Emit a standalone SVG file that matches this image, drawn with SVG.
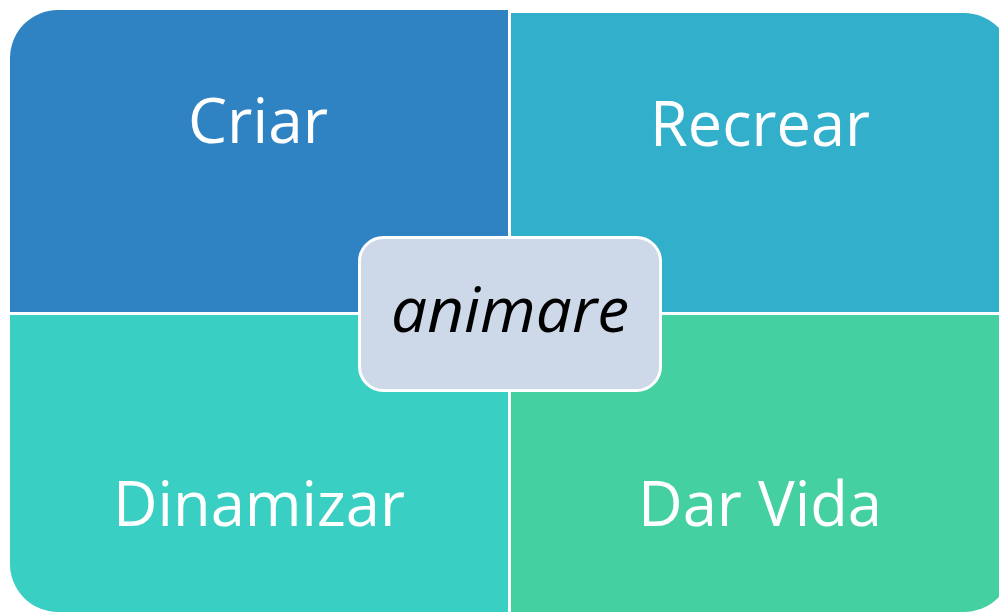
<svg xmlns="http://www.w3.org/2000/svg" width="999" height="614" viewBox="0 0 999 614">
<style>
.lbl{font-family:"Open Sans","Noto Sans","DejaVu Sans",sans-serif;font-size:63px;fill:#FFFFFF;text-anchor:middle}
.ctr{font-family:"Open Sans","Noto Sans","DejaVu Sans",sans-serif;font-size:63px;font-style:italic;fill:#000000;text-anchor:middle}
</style>
<rect width="999" height="614" fill="#FFFFFF"/>
<g id="criar">
<path d="M10,58 A48,48 0 0 1 58,10 L508,10 L508,312 L10,312 Z" fill="#2F83C3"/>
<text class="lbl" x="258" y="143" textLength="140" lengthAdjust="spacingAndGlyphs">Criar</text>
</g>
<g id="recrear">
<path d="M511,13 L964,13 A48,48 0 0 1 1012,61 L1012,312 L511,312 Z" fill="#32AFCB"/>
<text class="lbl" x="760" y="146" textLength="220" lengthAdjust="spacingAndGlyphs">Recrear</text>
</g>
<g id="dinamizar">
<path d="M10,315 L508,315 L508,612 L58,612 A48,48 0 0 1 10,564 Z" fill="#39CFC3"/>
<text class="lbl" x="259" y="526" textLength="292" lengthAdjust="spacingAndGlyphs">Dinamizar</text>
</g>
<g id="darvida">
<path d="M511,315 L1012,315 L1012,564 A48,48 0 0 1 964,612 L511,612 Z" fill="#44D0A1"/>
<text class="lbl" x="760" y="526" textLength="244" lengthAdjust="spacingAndGlyphs">Dar Vida</text>
</g>
<g id="connectors"></g>
<g id="animare">
<rect x="359.5" y="237.5" width="301" height="153" rx="24" ry="24" fill="#CDD8E8" stroke="#FFFFFF" stroke-width="3"/>
<text class="ctr" x="510" y="332" textLength="238" lengthAdjust="spacingAndGlyphs">animare</text>
</g>
</svg>
